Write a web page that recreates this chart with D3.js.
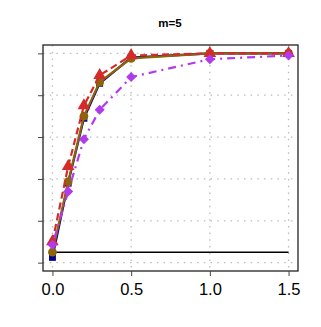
<!DOCTYPE html>
<html>
<head>
<meta charset="utf-8">
<script src="https://cdn.jsdelivr.net/npm/d3@7"></script>
<style>
  body { margin: 0; background: #fff; }
  text { font-family: "Liberation Sans", Arial, sans-serif; }
</style>
</head>
<body>
<svg id="chart" width="321" height="327"></svg>
<script>
// effect sizes on the x axis
var xs = [0, 0.1, 0.2, 0.3, 0.5, 1.0, 1.5];
// power for each method
var navyVals   = [0.025, 0.38, 0.69, 0.857, 0.98, 1.0, 1.0];
var brownVals  = [0.05, 0.387, 0.70, 0.863, 0.976, 1.0, 1.0];
var redVals    = [0.10, 0.46, 0.75, 0.895, 0.99, 1.0, 1.0];
var purpleVals = [0.085, 0.34, 0.59, 0.73, 0.887, 0.972, 0.99];
var alphaLevel = 0.05;
var xTicks = [0, 0.5, 1.0, 1.5];
var yTicks = [0, 0.2, 0.4, 0.6, 0.8, 1.0];
var title = "m=5";

var svg = d3.select("#chart");
var pLeft = 43, pRight = 298, pTop = 45, pBottom = 271;

var x = d3.scaleLinear().domain([-0.06, 1.56]).range([pLeft, pRight]);
var y = d3.scaleLinear().domain([-0.04, 1.04]).range([pBottom, pTop]);

// grid
var grid = svg.append("g").attr("stroke", "#bbb").attr("stroke-width", 1.3)
  .attr("stroke-dasharray", "1.5,5.2");
xTicks.forEach(function(t) {
  grid.append("line").attr("x1", x(t)).attr("x2", x(t)).attr("y1", pTop).attr("y2", pBottom);
});
yTicks.forEach(function(t) {
  grid.append("line").attr("x1", pLeft).attr("x2", pRight).attr("y1", y(t)).attr("y2", y(t));
});

// reference line
svg.append("line")
  .attr("x1", x(0)).attr("x2", x(1.5))
  .attr("y1", y(alphaLevel)).attr("y2", y(alphaLevel))
  .attr("stroke", "#000").attr("stroke-width", 1.5);

var series = [
  {vals: navyVals, color: "#00008B", dash: null, shape: d3.symbolSquare, size: 48, rot: 0},
  {vals: brownVals, color: "#8B6508", dash: null, shape: d3.symbolCircle, size: 60, rot: 0},
  {vals: redVals, color: "#D42A2A", dash: "7,4", shape: d3.symbolTriangle, size: 70, rot: 0},
  {vals: purpleVals, color: "#B23AEE", dash: "2,5,8,5", shape: d3.symbolSquare, size: 50, rot: 45}
];

var line = d3.line().x(function(d) { return x(d[0]); }).y(function(d) { return y(d[1]); });

series.forEach(function(s) {
  var pts = xs.map(function(v, i) { return [v, s.vals[i]]; });
  svg.append("path").datum(pts)
    .attr("d", line)
    .attr("fill", "none")
    .attr("stroke", s.color)
    .attr("stroke-width", 2.2)
    .attr("stroke-dasharray", s.dash);
  svg.selectAll(null).data(pts).enter().append("path")
    .attr("d", d3.symbol().type(s.shape).size(s.size))
    .attr("transform", function(d) {
      return "translate(" + x(d[0]) + "," + y(d[1]) + ") rotate(" + s.rot + ")";
    })
    .attr("fill", s.color);
});

// frame
svg.append("rect")
  .attr("x", pLeft).attr("y", pTop)
  .attr("width", pRight - pLeft).attr("height", pBottom - pTop)
  .attr("fill", "none").attr("stroke", "#222").attr("stroke-width", 1.3);

// axes
var xAxis = d3.axisBottom(x).tickValues(xTicks).tickFormat(d3.format(".1f")).tickSize(5).tickSizeOuter(0);
var gx = svg.append("g").attr("transform", "translate(0," + pBottom + ")").call(xAxis);
gx.select(".domain").remove();
gx.selectAll("text").attr("font-size", 16.5).attr("dy", "0.95em").attr("fill", "#000")
  .style("font-family", "'Liberation Sans', Arial, sans-serif");
gx.selectAll("line").attr("stroke", "#444");

var yAxis = d3.axisLeft(y).tickValues(yTicks).tickFormat("").tickSize(5).tickSizeOuter(0);
var gy = svg.append("g").attr("transform", "translate(" + pLeft + ",0)").call(yAxis);
gy.select(".domain").remove();
gy.selectAll("line").attr("stroke", "#444");

svg.append("text")
  .attr("x", 170).attr("y", 27)
  .attr("text-anchor", "middle")
  .attr("font-size", 11.5).attr("font-weight", "bold")
  .text(title);
</script>
</body>
</html>
